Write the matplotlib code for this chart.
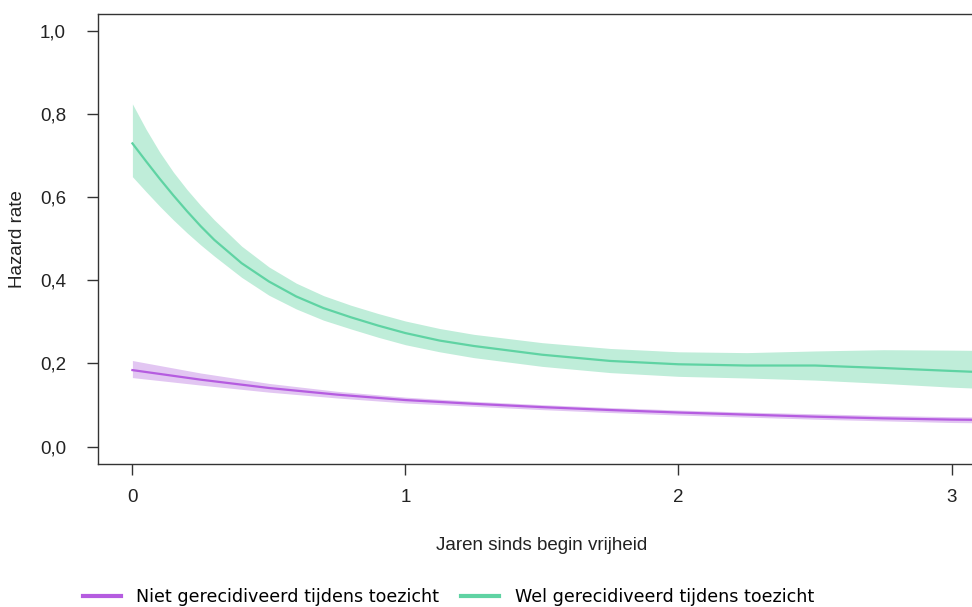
import numpy as np
import matplotlib
matplotlib.use("Agg")
import matplotlib.pyplot as plt
from matplotlib.lines import Line2D
from matplotlib.ticker import FuncFormatter

# ---- data ----
t_wel = [0, 0.05, 0.1, 0.15, 0.2, 0.25, 0.3, 0.4, 0.5, 0.6, 0.7, 0.8, 0.9, 1.0,
         1.125, 1.25, 1.5, 1.75, 2.0, 2.25, 2.5, 2.75, 3.0, 3.15]
wel_mid = [0.729, 0.686, 0.644, 0.604, 0.566, 0.530, 0.497, 0.441, 0.397, 0.361,
           0.333, 0.311, 0.291, 0.273, 0.255, 0.242, 0.221, 0.206, 0.198, 0.195,
           0.195, 0.189, 0.182, 0.178]
wel_hi = [0.824, 0.763, 0.708, 0.660, 0.618, 0.580, 0.545, 0.482, 0.432, 0.393,
          0.363, 0.340, 0.320, 0.302, 0.284, 0.270, 0.250, 0.236, 0.228, 0.226,
          0.230, 0.233, 0.232, 0.231]
wel_lo = [0.649, 0.613, 0.578, 0.545, 0.514, 0.485, 0.458, 0.407, 0.364, 0.331,
          0.304, 0.283, 0.263, 0.245, 0.228, 0.214, 0.193, 0.178, 0.169, 0.165,
          0.160, 0.152, 0.143, 0.139]

t_niet = [0, 0.25, 0.5, 0.75, 1.0, 1.25, 1.5, 1.75, 2.0, 2.25, 2.5, 2.75, 3.0, 3.15]
niet_mid = [0.184, 0.161, 0.141, 0.125, 0.112, 0.103, 0.095, 0.088, 0.082, 0.077,
            0.072, 0.068, 0.065, 0.064]
niet_hi = [0.207, 0.177, 0.152, 0.133, 0.119, 0.109, 0.101, 0.094, 0.088, 0.083,
           0.079, 0.075, 0.072, 0.071]
niet_lo = [0.166, 0.148, 0.131, 0.117, 0.105, 0.097, 0.089, 0.082, 0.076, 0.071,
           0.066, 0.062, 0.058, 0.057]

labels = ["Niet gerecidiveerd tijdens toezicht", "Wel gerecidiveerd tijdens toezicht"]
x_ticks = [0, 1, 2, 3]
y_ticks = [0.0, 0.2, 0.4, 0.6, 0.8, 1.0]

c_niet = "#b55ce0"
c_niet_band = "#e2c6f2"
c_wel = "#5fd3a3"
c_wel_band = "#bfedd9"
axis_col = "#333333"

fig = plt.figure(figsize=(9.72, 6.07), dpi=100)
ax = fig.add_axes([98/972, 143.3/607, 1 - 98/972, (463.7 - 14)/607])

ax.fill_between(t_niet, niet_lo, niet_hi, color=c_niet_band, lw=0)
ax.fill_between(t_wel, wel_lo, wel_hi, color=c_wel_band, lw=0)
ax.plot(t_niet, niet_mid, color=c_niet, lw=1.6)
ax.plot(t_wel, wel_mid, color=c_wel, lw=1.6)

ax.set_xlim(-0.126, 3.075)
ax.set_ylim(-0.041, 1.04)
ax.set_xticks(x_ticks)
ax.set_yticks(y_ticks)
ax.yaxis.set_major_formatter(FuncFormatter(lambda v, p: f"{v:.1f}".replace(".", ",")))
ax.xaxis.set_major_formatter(FuncFormatter(lambda v, p: f"{int(round(v))}"))

for s in ["left", "bottom", "top"]:
    ax.spines[s].set_color(axis_col)
    ax.spines[s].set_linewidth(1.0)
ax.spines["right"].set_visible(False)
ax.tick_params(axis="both", direction="out", length=8, width=1.0, color=axis_col,
               labelcolor="#222222", labelsize=13.5)
ax.tick_params(axis="y", pad=15)
ax.tick_params(axis="x", pad=10)
for lab in ax.get_xticklabels() + ax.get_yticklabels():
    lab.set_family(["Liberation Sans", "DejaVu Sans"])

narrow = ["Liberation Sans Narrow", "Liberation Sans", "DejaVu Sans"]
ax.set_xlabel("Jaren sinds begin vrijheid", fontsize=13.5, family=narrow, color="#222222")
ax.set_ylabel("Hazard rate", fontsize=13.5, family=narrow, color="#222222")
ax.xaxis.set_label_coords((541.5 - 98) / 874, (463.7 - 537) / 449.7)
ax.yaxis.set_label_coords((26 - 98) / 874, 0.5)

handles = [Line2D([], [], color=c_niet, lw=3), Line2D([], [], color=c_wel, lw=3)]
fig.legend(handles, labels, loc="center", bbox_to_anchor=(448.5/972, 1 - 597/607),
           ncol=2, frameon=False, prop={"family": "DejaVu Sans", "size": 12.6},
           handlelength=2.17, handletextpad=0.9, columnspacing=1.25, borderpad=0)

fig.savefig("out.png", dpi=100)
